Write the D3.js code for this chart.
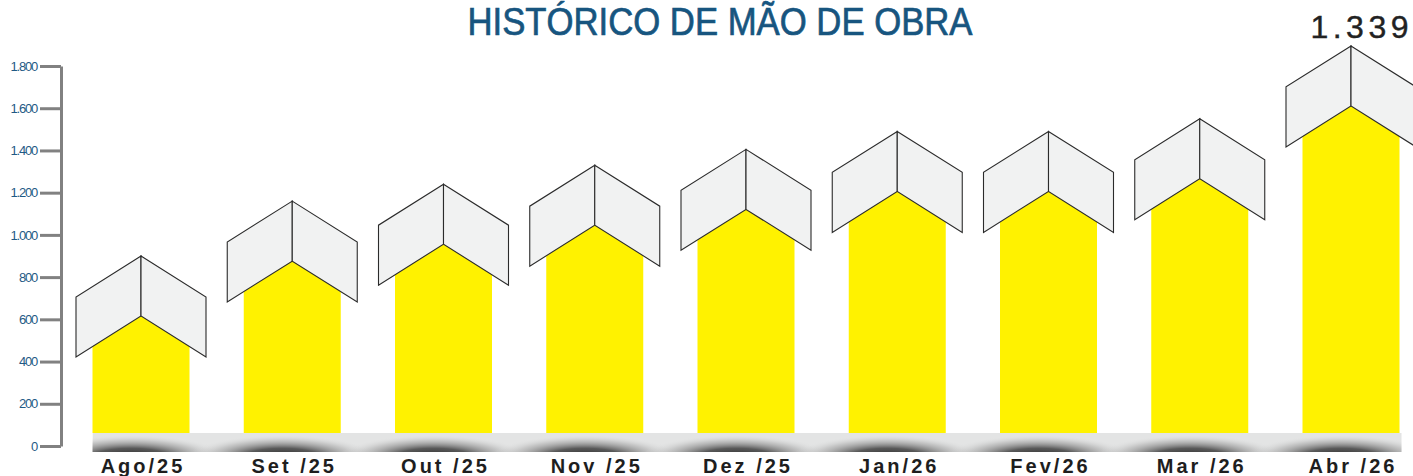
<!DOCTYPE html>
<html>
<head>
<meta charset="utf-8">
<script src="https://cdn.jsdelivr.net/npm/d3@7"></script>
<style>
  body { margin: 0; background: #fff; }
  svg { display: block; font-family: "Liberation Sans", Arial, sans-serif; }
</style>
</head>
<body>
<svg width="1413" height="476"></svg>
<script>
// months shown under the bars (spacing kept as in the original sheet)
const months = ['Ago/25', 'Set /25', 'Out /25', 'Nov /25', 'Dez /25', 'Jan/26', 'Fev/26', 'Mar /26', 'Abr /26']
// bar heights
const workers = [630, 890, 970, 1060, 1135, 1220, 1220, 1280, 1625]
const yTicks = [0, 200, 400, 600, 800, 1000, 1200, 1400, 1600, 1800]
const lastLabel = '1.339'
const title = 'HISTÓRICO DE MÃO DE OBRA'

const svg = d3.select('svg')

const ptBR = d3.formatLocale({ decimal: ',', thousands: '.', grouping: [3], currency: ['R$', ''] })

const y = d3.scaleLinear().domain([0, 1800]).range([446, 66])
const x = d3.scalePoint().domain(months).range([141, 1351])

const halfW = 48.5   // half width of the yellow bar
const roofW = 65     // half width of the roof
const slope = 0.63
const roofThick = 60
const bottom = y(0) - 13

// gradient for the shadow under each bar
const defs = svg.append('defs')
const grad = defs.append('radialGradient').attr('id', 'shade')
grad.append('stop').attr('offset', '0%').attr('stop-color', '#262626').attr('stop-opacity', 1)
grad.append('stop').attr('offset', '40%').attr('stop-color', '#4a4a4a').attr('stop-opacity', 0.9)
grad.append('stop').attr('offset', '75%').attr('stop-color', '#9a9a9a').attr('stop-opacity', 0.4)
grad.append('stop').attr('offset', '100%').attr('stop-color', '#e3e4e4').attr('stop-opacity', 0)

defs.append('clipPath').attr('id', 'band')
  .append('rect')
  .attr('x', x(months[0]) - halfW)
  .attr('y', bottom)
  .attr('width', x(months[months.length - 1]) + halfW + 2 - (x(months[0]) - halfW))
  .attr('height', 19)

// title
svg.append('text')
  .attr('x', 720).attr('y', 35)
  .attr('text-anchor', 'middle')
  .attr('font-size', 38)
  .attr('fill', '#17557f')
  .attr('stroke', '#17557f')
  .attr('stroke-width', 0.7)
  .attr('textLength', 505)
  .attr('lengthAdjust', 'spacingAndGlyphs')
  .text(title)

// y axis
const yAxis = d3.axisLeft(y)
  .tickValues(yTicks)
  .tickSize(21)
  .tickSizeOuter(0)
  .tickPadding(3)
  .tickFormat(ptBR.format(',d'))

const axisG = svg.append('g')
  .attr('transform', 'translate(61,0)')
  .call(yAxis)

axisG.select('.domain').attr('stroke', '#818181').attr('stroke-width', 3)
axisG.selectAll('.tick line').attr('stroke', '#818181').attr('stroke-width', 3)
axisG.selectAll('.tick text')
  .attr('fill', '#1f5a85')
  .attr('font-size', 13)
  .attr('letter-spacing', -1.2)
  .attr('font-family', '"Liberation Sans", Arial, sans-serif')

// grey base band with shadows
const base = svg.append('g').attr('clip-path', 'url(#band)')
base.append('rect')
  .attr('x', x(months[0]) - halfW)
  .attr('y', bottom)
  .attr('width', 1400)
  .attr('height', 19)
  .attr('fill', '#e3e4e4')

base.selectAll('ellipse')
  .data(months)
  .enter()
  .append('ellipse')
  .attr('cx', d => x(d) - 10)
  .attr('cy', bottom + 24)
  .attr('rx', 95)
  .attr('ry', 22)
  .attr('fill', 'url(#shade)')

// yellow bars with pointed tops
const bars = svg.append('g')
bars.selectAll('path')
  .data(workers)
  .enter()
  .append('path')
  .attr('fill', '#fff200')
  .attr('d', (d, i) => {
    const cx = x(months[i])
    const top = y(d)
    return d3.line()([
      [cx, top],
      [cx + halfW, top + halfW * slope],
      [cx + halfW, bottom],
      [cx - halfW, bottom],
      [cx - halfW, top + halfW * slope]
    ]) + 'Z'
  })

// the grey roofs above each bar
const roofs = svg.append('g')
workers.forEach((d, i) => {
  const cx = x(months[i])
  const top = y(d) - 57
  const side = roofW * slope
  const g = roofs.append('g')
  const left = [[cx, top], [cx - roofW, top + side], [cx - roofW, top + side + roofThick], [cx, top + roofThick]]
  const right = [[cx, top], [cx + roofW, top + side], [cx + roofW, top + side + roofThick], [cx, top + roofThick]]
  ;[left, right].forEach(pts => {
    g.append('path')
      .attr('d', d3.line()(pts) + 'Z')
      .attr('fill', '#f1f2f2')
      .attr('stroke', '#2b2b2b')
      .attr('stroke-width', 1.1)
      .attr('stroke-linejoin', 'miter')
  })
})

// month labels
svg.append('g')
  .selectAll('text')
  .data(months)
  .enter()
  .append('text')
  .attr('x', d => x(d) + 2)
  .attr('y', 473)
  .attr('text-anchor', 'middle')
  .attr('font-size', 20)
  .attr('font-weight', 'bold')
  .attr('letter-spacing', 3)
  .attr('fill', '#1e1e1e')
  .text(d => d)

// value on the last bar (kept inside the right edge)
svg.append('text')
  .attr('x', 1413)
  .attr('y', y(workers[workers.length - 1]) - 65)
  .attr('text-anchor', 'end')
  .attr('font-size', 32)
  .attr('letter-spacing', 4.5)
  .attr('fill', '#222')
  .attr('stroke', '#222')
  .attr('stroke-width', 0.4)
  .text(lastLabel)
</script>
</body>
</html>
